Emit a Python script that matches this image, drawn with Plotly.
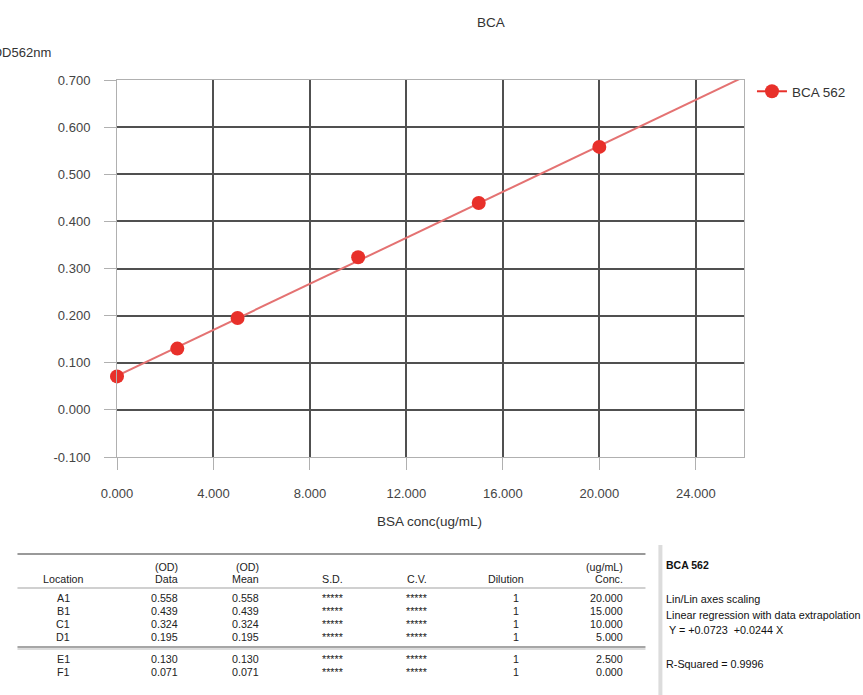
import plotly.graph_objects as go

# ---- data ----
locations = ["A1", "B1", "C1", "D1", "E1", "F1"]
od_data = [0.558, 0.439, 0.324, 0.195, 0.130, 0.071]
od_mean = [0.558, 0.439, 0.324, 0.195, 0.130, 0.071]
sd = ["*****"] * 6
cv = ["*****"] * 6
dilution = [1, 1, 1, 1, 1, 1]
conc = [20.000, 15.000, 10.000, 5.000, 2.500, 0.000]

fit_intercept = 0.0723
fit_slope = 0.0244
r_squared = 0.9996

x_ticks = [0, 4, 8, 12, 16, 20, 24]
y_ticks = [-0.1, 0.0, 0.1, 0.2, 0.3, 0.4, 0.5, 0.6, 0.7]
x_range = [0, 26]
y_range = [-0.1, 0.7]

series_name = "BCA 562"

# ---- geometry helpers (pixels -> paper) ----
W, H = 863, 695
L, R, T, B = 117, 747, 80, 457


def px(x):
    return (x - L) / (R - L)


def py(y):
    return (B - y) / (B - T)


FONT = "Liberation Sans, Arial, sans-serif"

fig = go.Figure()

# regression line over the axis range
fx = [x_range[0], x_range[1]]
fy = [fit_intercept + fit_slope * v for v in fx]
fig.add_trace(go.Scatter(x=fx, y=fy, mode="lines",
                         line=dict(color="#e47272", width=2),
                         showlegend=False, hoverinfo="skip"))
# data points
fig.add_trace(go.Scatter(x=conc, y=od_data, mode="markers",
                         marker=dict(color="#e8302a", size=14),
                         showlegend=False, cliponaxis=False))
# legend entry
fig.add_trace(go.Scatter(x=[None], y=[None], mode="lines+markers", name=series_name,
                         line=dict(color="#e8302a", width=2),
                         marker=dict(color="#e8302a", size=14)))

axis_common = dict(
    showline=True, mirror=True, linecolor="#b0b0b0", linewidth=1,
    showgrid=True, gridcolor="#505050", gridwidth=1.5,
    zeroline=False, ticks="outside", ticklen=12, tickcolor="#b0b0b0",
    tickfont=dict(family=FONT, size=13, color="#444"),
)

fig.update_xaxes(range=x_range, tickvals=x_ticks,
                 ticktext=[f"{v:.3f}" for v in x_ticks],
                 ticklabelstandoff=12, **axis_common)
fig.update_yaxes(range=y_range, tickvals=y_ticks,
                 ticktext=[f"{v:.3f}".replace("-0.000", "0.000") for v in y_ticks],
                 ticklabelstandoff=11, **axis_common)

ann = []
shapes = []

# titles
ann.append(dict(x=px(493), y=py(22), text="BCA", showarrow=False,
                font=dict(family=FONT, size=13.5, color="#333")))
ann.append(dict(x=px(431), y=py(521), text="BSA conc(ug/mL)", showarrow=False,
                font=dict(family=FONT, size=13.5, color="#333")))
ann.append(dict(x=px(53), y=py(53), text="OD562nm", showarrow=False, xanchor="right",
                font=dict(family=FONT, size=13, color="#333")))

# ---- table ----
tf = dict(family=FONT, size=10.7, color="#222")
shapes.append(dict(type="line", x0=px(17), x1=px(648), y0=py(554), y1=py(554),
                   line=dict(color="#999", width=2)))
shapes.append(dict(type="line", x0=px(17), x1=px(648), y0=py(588), y1=py(588),
                   line=dict(color="#d0d0d0", width=2)))
shapes.append(dict(type="line", x0=px(17), x1=px(648), y0=py(647), y1=py(647),
                   line=dict(color="#888", width=1.5)))
shapes.append(dict(type="line", x0=px(17), x1=px(648), y0=py(649), y1=py(649),
                   line=dict(color="#d0d0d0", width=1.5)))

# columns: (x, anchor)
cols = [(63, "center"), (180, "right"), (262, "right"), (334, "center"),
        (418, "center"), (523, "right"), (627, "right")]
head1 = ["", "(OD)", "(OD)", "", "", "", "(ug/mL)"]
head2 = ["Location", "Data", "Mean", "S.D.", "C.V.", "Dilution", "Conc."]
for (cx, anc), h1, h2 in zip(cols, head1, head2):
    if h1:
        ann.append(dict(x=px(cx), y=py(567), text=h1, showarrow=False,
                        xanchor=anc, font=tf))
    hx = 508 if h2 == "Dilution" else cx
    hanc = "center" if h2 == "Dilution" else anc
    ann.append(dict(x=px(hx), y=py(579), text=h2, showarrow=False,
                    xanchor=hanc, font=tf))

row_y = [598, 611, 624, 637, 659, 672]
for i, yy in enumerate(row_y):
    vals = [locations[i], f"{od_data[i]:.3f}", f"{od_mean[i]:.3f}", sd[i], cv[i],
            str(dilution[i]), f"{conc[i]:.3f}"]
    for (cx, anc), v in zip(cols, vals):
        ann.append(dict(x=px(cx), y=py(yy), text=v, showarrow=False,
                        xanchor=anc, font=tf))

# ---- right info panel ----
shapes.append(dict(type="rect", x0=px(661), x1=px(665), y0=py(545), y1=py(695),
                   fillcolor="#dcdcdc", line=dict(width=0)))
nf = dict(family=FONT, size=10.8, color="#111")
ann.append(dict(x=px(667), y=py(565), text=f"<b>{series_name}</b>", showarrow=False,
                xanchor="left", font=dict(family=FONT, size=10.5, color="#111")))
info = [(599, "Lin/Lin axes scaling"),
        (615, "Linear regression with data extrapolation"),
        (630, f"&nbsp;Y = {fit_intercept:+.4f}  {fit_slope:+.4f} X"),
        (664, f"R-Squared = {r_squared:.4f}")]
for yy, t in info:
    ann.append(dict(x=px(667), y=py(yy), text=t, showarrow=False,
                    xanchor="left", font=nf))

for a in ann:
    a.setdefault("xref", "paper")
    a.setdefault("yref", "paper")
    a.setdefault("yanchor", "middle")
for s in shapes:
    s["xref"] = "paper"
    s["yref"] = "paper"

fig.update_layout(
    width=W, height=H,
    margin=dict(l=L, r=W - R, t=T, b=H - B),
    paper_bgcolor="white", plot_bgcolor="white",
    annotations=ann, shapes=shapes,
    legend=dict(x=px(755), y=py(76), xanchor="left", yanchor="top",
                font=dict(family=FONT, size=13.5, color="#333"),
                bgcolor="rgba(0,0,0,0)"),
)

fig.write_html("out.html", config={"displayModeBar": False},
               post_script="document.body.style.margin='0';")
